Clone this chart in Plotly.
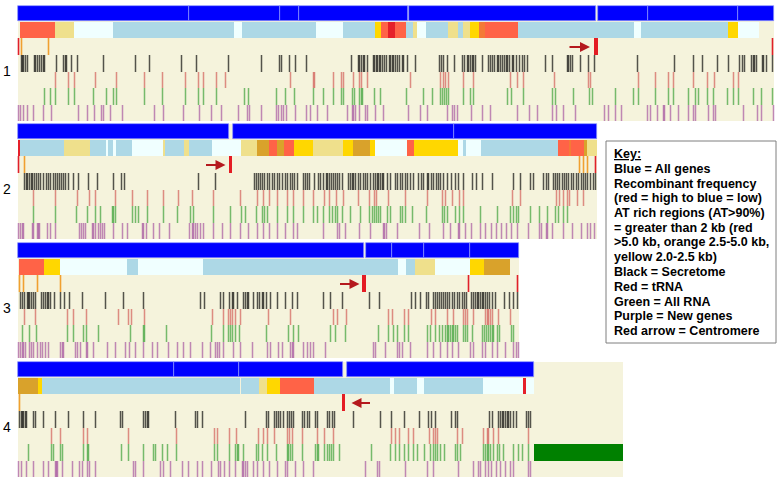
import plotly.graph_objects as go

# ---------------- data (positions in 16-kb bins from chromosome start) ----------------
CHROM_NAMES = ["1", "2", "3", "4"]
CHROM_LENGTH = [756, 579, 501, 516]
PANEL_END = [756, 579, 501, 605]
CENTROMERE = [578.5, 213, 346.5, 326]

# blue blocks: all genes
chr1_genes = [(0, 171), (171, 262), (262, 281), (281, 390), (391, 578), (580.5, 630), (630, 720), (720, 756)]
chr2_genes = [(0, 211), (215, 436), (436, 579)]
chr3_genes = [(0, 346), (348, 374), (374, 406), (406, 452), (452, 501)]
chr4_genes = [(0, 156), (156, 221), (221, 325), (329, 516)]

# recombination frequency segments (start, end, level 1=low ... 8=high)
chr1_recomb = [(2, 37, 7), (37, 56, 3), (56, 95, 1), (95, 216, 2), (216, 224, 1), (224, 298, 2), (298, 325, 1),
               (325, 357, 2), (357, 363, 4), (363, 370, 7), (370, 377, 8), (377, 388, 7), (388, 395, 2),
               (395, 399, 3), (399, 408, 1), (408, 430, 2), (430, 440, 3), (440, 445, 2), (445, 452, 3),
               (452, 461, 4), (461, 467, 6), (467, 500, 7), (500, 616, 2), (616, 623, 1), (623, 710, 2),
               (710, 720, 4), (720, 741, 1)]
chr2_recomb = [(0, 2, 8), (2, 46, 2), (46, 72, 3), (72, 89, 2), (89, 90, 1), (90, 95, 2), (95, 98, 1),
               (98, 114, 2), (114, 145, 1), (145, 147, 3), (147, 166, 2), (166, 171, 3), (171, 194, 2),
               (194, 223, 1), (223, 239, 3), (239, 251, 5), (251, 259, 7), (259, 266, 5), (266, 276, 7),
               (276, 295, 4), (295, 325, 3), (325, 335, 4), (335, 352, 5), (352, 357, 4), (357, 389, 1),
               (389, 396, 7), (396, 440, 4), (440, 445, 1), (445, 448, 2), (448, 463, 1), (463, 540, 2),
               (540, 552, 7), (552, 553, 6), (553, 566, 7), (566, 569, 5), (569, 579, 3)]
chr3_recomb = [(1, 26, 7), (26, 42, 4), (42, 109, 1), (109, 120, 2), (120, 185, 1), (185, 380, 2),
               (380, 388, 1), (388, 397, 2), (397, 417, 3), (417, 452, 1), (452, 466, 4), (466, 492, 5)]
chr4_recomb = [(0, 20, 5), (20, 24, 4), (24, 222, 2), (223, 241, 2), (241, 249, 3), (249, 262, 4),
               (262, 296, 7), (296, 372, 2), (372, 376, 1), (376, 399, 2), (399, 406, 1), (406, 425, 2),
               (425.5, 465, 2), (465, 516, 1), (505, 508, 8)]

# AT-rich regions (position, class r=>5kb, o=2.5-5kb)
chr1_at = [(1, "r"), (4, "o"), (31, "o"), (755, "r")]
chr2_at = [(1, "r"), (7, "o"), (562, "o"), (566, "o"), (570, "o"), (578, "r")]
chr3_at = [(2, "o"), (6, "o"), (20, "o"), (43, "o"), (451, "r"), (500, "r")]
chr4_at = [(2, "o")]

# secretome (black)
chr1_secretome = [4, 5, 6, 8, 10, 17, 18, 20, 22, 24, 26, 27, 39, 46, 48, 49, 54, 60, 86, 118, 132, 164, 179, 211,
                  244, 262, 264, 272, 278, 289, 334, 341, 342, 344, 346, 347, 350, 356, 357, 359, 360, 362, 363,
                  365, 367, 369, 372, 373, 375, 376, 378, 380, 382, 385, 386, 390, 398, 422, 424, 426, 430, 437,
                  445, 447, 450, 451, 453, 455, 456, 458, 465, 471, 473, 475, 477, 480, 481, 483, 485, 487, 489,
                  490, 492, 495, 496, 499, 502, 505, 507, 510, 528, 535, 550, 551, 553, 555, 563, 571, 577, 620,
                  657, 676, 685, 700, 711, 722, 725, 727, 734, 736, 737, 739, 745, 746, 749, 755]
chr2_secretome = [7, 9, 10, 12, 14, 15, 17, 19, 21, 23, 26, 29, 31, 33, 36, 38, 40, 42, 44, 46, 48, 51, 56, 61, 71,
                  80, 96, 104, 107, 181, 198, 237, 239, 241, 243, 245, 247, 250, 252, 255, 257, 260, 262, 265, 268,
                  270, 273, 275, 277, 280, 286, 288, 290, 292, 297, 301, 303, 306, 309, 310, 312, 314, 316, 318,
                  320, 322, 325, 331, 333, 335, 336, 338, 341, 343, 346, 348, 350, 353, 356, 358, 360, 361, 363,
                  365, 366, 370, 373, 378, 380, 383, 385, 388, 390, 393, 396, 401, 404, 406, 410, 411, 414, 416,
                  419, 421, 423, 426, 430, 434, 438, 441, 446, 455, 459, 465, 475, 496, 503, 513, 516, 526, 529,
                  531, 536, 538, 540, 542, 545, 547, 549, 551, 554, 556, 559, 561, 564, 566, 568, 570, 573, 576, 578]
chr3_secretome = [3, 5, 7, 10, 11, 12, 14, 16, 18, 24, 26, 28, 30, 31, 33, 37, 43, 47, 52, 65, 88, 106, 126, 183,
                  187, 203, 206, 212, 215, 216, 220, 226, 228, 230, 231, 236, 240, 242, 245, 246, 249, 253, 260,
                  268, 275, 280, 306, 313, 325, 352, 362, 394, 398, 403, 409, 411, 416, 418, 420, 422, 424, 426,
                  428, 430, 432, 435, 437, 440, 442, 445, 447, 449, 454, 456, 458, 460, 461, 463, 465, 466, 468,
                  470, 472, 475, 478, 487, 492, 496, 500]
chr4_secretome = [2, 4, 5, 6, 8, 9, 16, 18, 26, 38, 51, 66, 78, 103, 105, 126, 128, 130, 131, 158, 178, 180, 185,
                  228, 249, 251, 257, 259, 261, 263, 266, 270, 272, 274, 276, 285, 287, 290, 292, 298, 300, 310,
                  312, 315, 317, 336, 363, 374, 387, 402, 411, 414, 418, 434, 438, 440, 472, 475, 481, 483, 485,
                  486, 488, 490, 491, 493, 496, 499, 509, 511, 513]

# tRNA (red)
chr1_trna = [38, 51, 57, 78, 99, 127, 145, 168, 181, 186, 199, 208, 273, 296, 297, 316, 324, 326, 336, 342, 344,
             350, 393, 423, 426, 428, 431, 446, 456, 493, 500, 506, 537, 571, 573, 621, 638, 651, 656, 676, 690,
             697, 716, 721]
chr2_trna = [16, 38, 60, 72, 78, 98, 115, 130, 146, 161, 175, 196, 223, 240, 246, 252, 260, 270, 276, 286, 296,
             307, 312, 319, 326, 341, 352, 357, 359, 371, 388, 410, 425, 428, 435, 442, 446, 495, 503, 539, 542,
             546, 550, 552, 560, 566]
chr3_trna = [7, 18, 50, 56, 69, 101, 111, 114, 127, 195, 206, 211, 213, 215, 218, 223, 251, 273, 316, 320, 329,
             371, 375, 387, 391, 414, 418, 430, 436, 446, 448, 450, 456, 468, 470, 471, 473, 475, 481, 493]
chr4_trna = [34, 43, 66, 70, 111, 159, 197, 200, 212, 219, 241, 246, 250, 257, 270, 272, 275, 285, 300, 307, 316,
             374, 378, 382, 391, 396, 412, 416, 418, 420, 440, 445, 466, 470, 471, 476, 481, 511]

# all RNA (green)
chr1_rna = [27, 33, 38, 51, 57, 76, 89, 96, 99, 127, 145, 168, 181, 186, 199, 227, 231, 259, 268, 277, 296, 306,
            316, 324, 326, 335, 337, 342, 344, 345, 357, 363, 389, 406, 415, 423, 425, 427, 429, 431, 446, 453,
            456, 490, 494, 506, 535, 538, 556, 572, 575, 598, 616, 621, 638, 651, 656, 671, 678, 681, 690, 696,
            710, 716, 721, 736, 744, 755]
chr2_rna = [16, 38, 59, 70, 78, 83, 95, 96, 98, 115, 118, 121, 130, 146, 160, 173, 176, 196, 213, 224, 228, 239,
            245, 247, 250, 260, 270, 276, 286, 296, 300, 306, 312, 315, 318, 320, 325, 333, 343, 352, 355, 357,
            359, 361, 363, 370, 373, 383, 385, 388, 395, 409, 425, 427, 430, 438, 442, 446, 463, 480, 493, 496,
            499, 501, 513, 522, 530, 538, 541, 546, 550]
chr3_rna = [5, 12, 19, 50, 56, 66, 69, 81, 113, 126, 127, 149, 194, 206, 211, 213, 215, 218, 222, 249, 271, 276,
            281, 313, 318, 328, 361, 371, 376, 380, 387, 391, 410, 413, 418, 422, 425, 428, 430, 431, 433, 435,
            436, 438, 440, 446, 448, 450, 455, 465, 467, 469, 471, 473, 475, 476, 480, 482, 494, 496]
chr4_rna = [11, 34, 36, 43, 45, 66, 70, 71, 104, 111, 126, 136, 138, 145, 150, 159, 197, 200, 212, 218, 220, 221,
            226, 239, 241, 245, 250, 259, 270, 271, 273, 275, 285, 298, 300, 301, 307, 310, 312, 314, 316, 322,
            354, 373, 378, 382, 387, 391, 396, 400, 407, 413, 416, 418, 420, 423, 427, 438, 440, 443, 466, 468,
            470, 471, 473, 476, 480, 482, 486, 496, 501, 505, 511]
chr4_rna_block = [(516, 605)]

# new genes (purple)
chr1_new = [1, 3, 6, 10, 16, 26, 34, 61, 70, 77, 84, 86, 93, 105, 137, 146, 166, 182, 194, 204, 221, 230, 232, 244,
            259, 261, 264, 266, 269, 278, 289, 293, 300, 310, 330, 335, 336, 338, 342, 348, 350, 358, 366, 391,
            403, 410, 430, 435, 437, 440, 454, 465, 473, 500, 512, 520, 535, 539, 546, 558, 587, 591, 598, 604,
            630, 633, 640, 646, 647, 653, 661, 671, 676, 678, 691, 696, 698, 726, 740, 744, 756]
chr2_new = [1, 3, 5, 6, 15, 16, 20, 21, 22, 30, 33, 38, 62, 64, 66, 68, 75, 76, 78, 81, 83, 85, 87, 96, 105, 110,
            125, 126, 129, 136, 142, 152, 172, 175, 176, 178, 180, 183, 186, 196, 205, 213, 223, 231, 240, 246, 252,
            260, 268, 276, 280, 306, 320, 322, 328, 342, 353, 366, 367, 369, 380, 402, 412, 426, 433, 441, 442,
            448, 454, 463, 468, 474, 479, 484, 489, 494, 500, 511, 522, 524, 529, 530, 535, 546, 555, 564, 570,
            573, 577]
chr3_new = [1, 3, 5, 6, 8, 12, 14, 16, 20, 23, 25, 28, 31, 43, 45, 46, 58, 60, 63, 69, 70, 76, 90, 98, 108, 112,
            118, 126, 135, 140, 151, 160, 166, 173, 185, 193, 198, 200, 202, 206, 216, 223, 235, 250, 253, 261,
            265, 273, 275, 276, 286, 290, 293, 296, 308, 356, 358, 368, 380, 382, 385, 393, 410, 416, 423, 430,
            435, 441, 453, 456, 465, 468, 475, 480, 488, 496, 499, 501]
chr4_new = [1, 4, 9, 16, 26, 31, 38, 39, 40, 45, 55, 62, 65, 70, 72, 78, 116, 118, 126, 143, 146, 153, 165, 171,
            180, 185, 194, 201, 203, 207, 212, 218, 225, 226, 228, 230, 236, 240, 246, 252, 260, 268, 270, 278,
            286, 296, 348, 360, 362, 388, 410, 416, 441, 456, 461, 463, 468, 471, 474, 479, 483, 488, 493, 496,
            511, 513]

KEY_LINES = ["<u>Key:</u>", "Blue = All genes", "Recombinant frequency", "(red = high to blue = low)",
             "AT rich regions (AT>90%)", "= greater than 2 kb (red", ">5.0 kb, orange 2.5-5.0 kb,",
             "yellow 2.0-2.5 kb)", "Black = Secretome", "Red = tRNA", "Green = All RNA",
             "Purple = New genes", "Red arrow = Centromere"]

# ---------------- layout / style ----------------
W, H = 778, 484
X0 = 17.5                     # pixel of chromosome start (bins on pixel centres)
ROW_TOP = [6, 124, 243, 362]
T_GENES = (0, 15)
T_REC = (16, 32)
T_AT = (32, 49)
T_SEC = (49, 66)
T_TRNA = (66, 82)
T_RNA = (82, 99)
T_NEW = (99, 115)
BEIGE = "#f5f3dc"
REC_COLORS = {8: "#e5202a", 7: "#ff6347", 6: "#f47a36", 5: "#d9a22b", 4: "#ffd700", 3: "#efe08c",
              2: "#add8e6", 1: "#f0ffff"}
AT_COLORS = {"r": "#e0202a", "o": "#f0a030"}

genes = [chr1_genes, chr2_genes, chr3_genes, chr4_genes]
recomb = [chr1_recomb, chr2_recomb, chr3_recomb, chr4_recomb]
at_rich = [chr1_at, chr2_at, chr3_at, chr4_at]
secretome = [chr1_secretome, chr2_secretome, chr3_secretome, chr4_secretome]
trna = [chr1_trna, chr2_trna, chr3_trna, chr4_trna]
rna = [chr1_rna, chr2_rna, chr3_rna, chr4_rna]
newg = [chr1_new, chr2_new, chr3_new, chr4_new]

fig = go.Figure()


def hbars(segs, track, colors, line=None):
    base, length, yc, cols = [], [], [], []
    for ci, ss in enumerate(segs):
        for k, s in enumerate(ss):
            base.append(s[0])
            length.append(s[1] - s[0])
            yc.append(ROW_TOP[ci] + (track[0] + track[1]) / 2)
            cols.append(colors(s) if callable(colors) else colors)
    fig.add_trace(go.Bar(orientation="h", base=base, x=length, y=yc, width=track[1] - track[0],
                         marker=dict(color=cols, line=line or dict(width=0)),
                         hoverinfo="skip", showlegend=False))


# beige panels
hbars([[(0, PANEL_END[i])] for i in range(4)], (0, 115), BEIGE)
# genes
hbars(genes, T_GENES, "#0000ff", line=dict(color="#8c96ff", width=0.7))
# recombination
hbars(recomb, T_REC, lambda s: REC_COLORS[s[2]])
# centromeres
hbars([[(c - 1.7, c + 1.7)] for c in CENTROMERE], T_AT, "#e41c24")
# RNA block on chr 4
hbars([[], [], [], chr4_rna_block], T_RNA, "#008000")


def ticks(lists, track, color, width=1.5, split=True):
    groups = [([], []), ([], [])]
    for ci, pos in enumerate(lists):
        top = ROW_TOP[ci] + track[0]
        bot = ROW_TOP[ci] + track[1]
        for k, p in enumerate(pos):
            g = groups[k % 2 if split else 0]
            g[0].extend([p, p, None])
            g[1].extend([top, bot, None])
    for xs, ys in groups:
        if xs:
            fig.add_trace(go.Scatter(x=xs, y=ys, mode="lines", line=dict(color=color, width=width),
                                     hoverinfo="skip", showlegend=False))


# AT-rich markers
for cls in ("o", "r"):
    ticks([[p for p, c in lst if c == cls] for lst in at_rich], T_AT, AT_COLORS[cls], width=1.6, split=False)

ticks(secretome, T_SEC, "rgba(0,0,0,0.66)")
ticks(trna, T_TRNA, "rgba(200,55,55,0.55)")
ticks(rna, T_RNA, "rgba(25,145,25,0.58)")
ticks(newg, T_NEW, "rgba(145,45,145,0.55)")

# centromere arrows
ARROW_TIP = [-6, -5, -4.5, 8]
ARROW_DX = [-22, -21, -21, 20]
for i, c in enumerate(CENTROMERE):
    fig.add_annotation(x=c + ARROW_TIP[i], y=ROW_TOP[i] + 41, ax=ARROW_DX[i], ay=0, text="",
                       showarrow=True, arrowhead=2, arrowsize=1, arrowwidth=2, arrowcolor="#b5191e")

# chromosome numbers
for i, name in enumerate(CHROM_NAMES):
    fig.add_annotation(x=-11, y=ROW_TOP[i] + 65, text=name, showarrow=False,
                       font=dict(family="Liberation Sans, Arial", size=14, color="#000"))

# key box
KEY_BOX = (606, 141, 776, 343)
fig.add_shape(type="rect", xref="paper", yref="paper",
              x0=KEY_BOX[0] / W, x1=KEY_BOX[2] / W, y0=1 - KEY_BOX[3] / H, y1=1 - KEY_BOX[1] / H,
              line=dict(color="#7f7f7f", width=1), fillcolor="white")
for k, t in enumerate(KEY_LINES):
    fig.add_annotation(xref="paper", yref="paper", x=612 / W, y=1 - (154 + 14.75 * k) / H,
                       xanchor="left", yanchor="middle", text="<b>" + t + "</b>", showarrow=False,
                       font=dict(family="Liberation Sans, Arial", size=12.5, color="#000"))

fig.update_layout(width=W, height=H, margin=dict(l=0, r=0, t=0, b=0), autosize=False,
                  paper_bgcolor="white", plot_bgcolor="white", barmode="overlay", bargap=0,
                  xaxis=dict(range=[-X0, W - X0], visible=False, fixedrange=True),
                  yaxis=dict(range=[H, 0], visible=False, fixedrange=True),
                  showlegend=False)

fig.write_html("out.html", config={"displayModeBar": False},
               post_script="document.body.style.margin='0px';document.body.style.overflow='hidden';")
